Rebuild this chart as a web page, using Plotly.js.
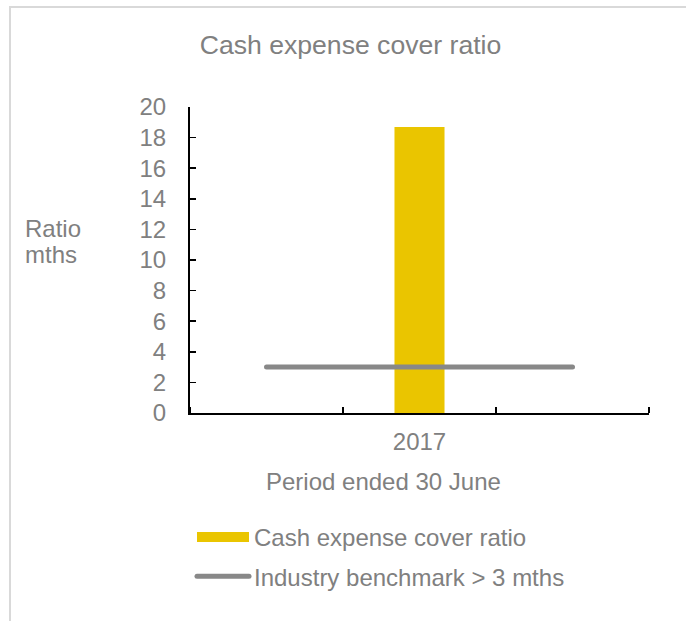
<!DOCTYPE html>
<html>
<head>
<meta charset="utf-8">
<script src="https://cdn.plot.ly/plotly-3.0.1.min.js"></script>
<style>
  html, body { margin: 0; padding: 0; background: #fff; }
  #wrap { position: relative; width: 686px; height: 621px; overflow: hidden; }
  #chart { position: absolute; left: 0; top: 0; width: 686px; height: 621px; }
  #frame { position: absolute; left: 9px; top: 6px; width: 700px; height: 700px;
           border-left: 2px solid #d9d9d9; border-top: 2px solid #d9d9d9; pointer-events: none; }
</style>
</head>
<body>
<div id="wrap">
  <div id="chart"></div>
  <div id="frame"></div>
</div>
<script>
// ---- data ----
const categories = ['', '2017', ''];
const cashCoverRatio = [null, 18.7, null];
const industryBenchmark = [3, 3, 3];
const yTickValues = [0, 2, 4, 6, 8, 10, 12, 14, 16, 18, 20];
const seriesNames = ['Cash expense cover ratio', 'Industry benchmark > 3 mths'];

const xPos = categories.map((_, i) => i);
const GREY = '#808080';
const FONT = 'Liberation Sans, Arial, sans-serif';

const traces = [
  {
    type: 'bar', x: xPos, y: cashCoverRatio, width: 0.327,
    marker: { color: '#EAC500' }, name: seriesNames[0], showlegend: false,
    legendgroup: 'a', hoverinfo: 'y'
  },
  {
    type: 'scatter', mode: 'lines', x: [null], y: [null],
    line: { color: '#EAC500', width: 12 }, name: seriesNames[0],
    legendgroup: 'a', showlegend: true
  },
  {
    type: 'scatter', mode: 'lines', x: xPos, y: industryBenchmark,
    line: { color: '#888888', width: 5 }, name: seriesNames[1],
    legendgroup: 'b', showlegend: true
  }
];

const layout = {
  width: 686, height: 621,
  margin: { l: 190, r: 37, t: 107, b: 208, autoexpand: false },
  paper_bgcolor: 'rgba(0,0,0,0)', plot_bgcolor: 'rgba(0,0,0,0)',
  font: { family: FONT, color: GREY, size: 24 },
  title: {
    text: 'Cash expense cover ratio', font: { size: 26.6, color: GREY, family: FONT },
    xref: 'container', x: 350.5 / 686, xanchor: 'center',
    yref: 'container', y: 1 - 44.5 / 621, yanchor: 'middle'
  },
  xaxis: {
    range: [-0.5, 2.5], tickmode: 'array', tickvals: xPos, ticktext: categories,
    ticks: '', showline: true, linecolor: '#000', linewidth: 2,
    showgrid: false, zeroline: false, ticklabelstandoff: 6,
    tickfont: { size: 24, color: GREY },
    minor: { tick0: -0.5, dtick: 1, ticks: 'inside', ticklen: 6, tickwidth: 1.5, tickcolor: '#000', showgrid: false }
  },
  yaxis: {
    range: [0, 20], tickmode: 'array', tickvals: yTickValues,
    ticks: 'inside', ticklen: 6, tickwidth: 1.5, tickcolor: '#000',
    showline: true, linecolor: '#000', linewidth: 2,
    showgrid: false, zeroline: false, ticklabelstandoff: 17,
    tickfont: { size: 24, color: GREY }
  },
  showlegend: true,
  legend: {
    xref: 'container', yref: 'container', x: 192 / 686, y: 1 - 515 / 621,
    xanchor: 'left', yanchor: 'top', orientation: 'v',
    traceorder: 'grouped', tracegroupgap: 5, itemwidth: 52,
    font: { size: 24, color: GREY }, bgcolor: 'rgba(0,0,0,0)'
  },
  annotations: [
    { text: 'Period ended 30 June', xref: 'paper', yref: 'paper',
      x: (383.5 - 190) / 458.5, y: (413 - 481) / 306, xanchor: 'center', yanchor: 'middle',
      showarrow: false, font: { size: 24, color: GREY } },
    { text: 'Ratio', xref: 'paper', yref: 'paper',
      x: (22.7 - 190) / 458.5, y: (413 - 228) / 306, xanchor: 'left', yanchor: 'middle',
      showarrow: false, font: { size: 24, color: GREY } },
    { text: 'mths', xref: 'paper', yref: 'paper',
      x: (22.7 - 190) / 458.5, y: (413 - 254.5) / 306, xanchor: 'left', yanchor: 'middle',
      showarrow: false, font: { size: 24, color: GREY } }
  ]
};

Plotly.newPlot('chart', traces, layout, { staticPlot: true, displayModeBar: false }).then(gd => {
  gd.querySelectorAll('.scatterlayer path.js-line').forEach(p => p.style.strokeLinecap = 'round');
  gd.querySelectorAll('g.traces').forEach(g => {
    const d = g.__data__;
    if (d && d[0] && d[0].trace && d[0].trace.name === seriesNames[1]) {
      g.querySelectorAll('.legendlines path').forEach(p => p.style.strokeLinecap = 'round');
    }
  });
});
</script>
</body>
</html>
